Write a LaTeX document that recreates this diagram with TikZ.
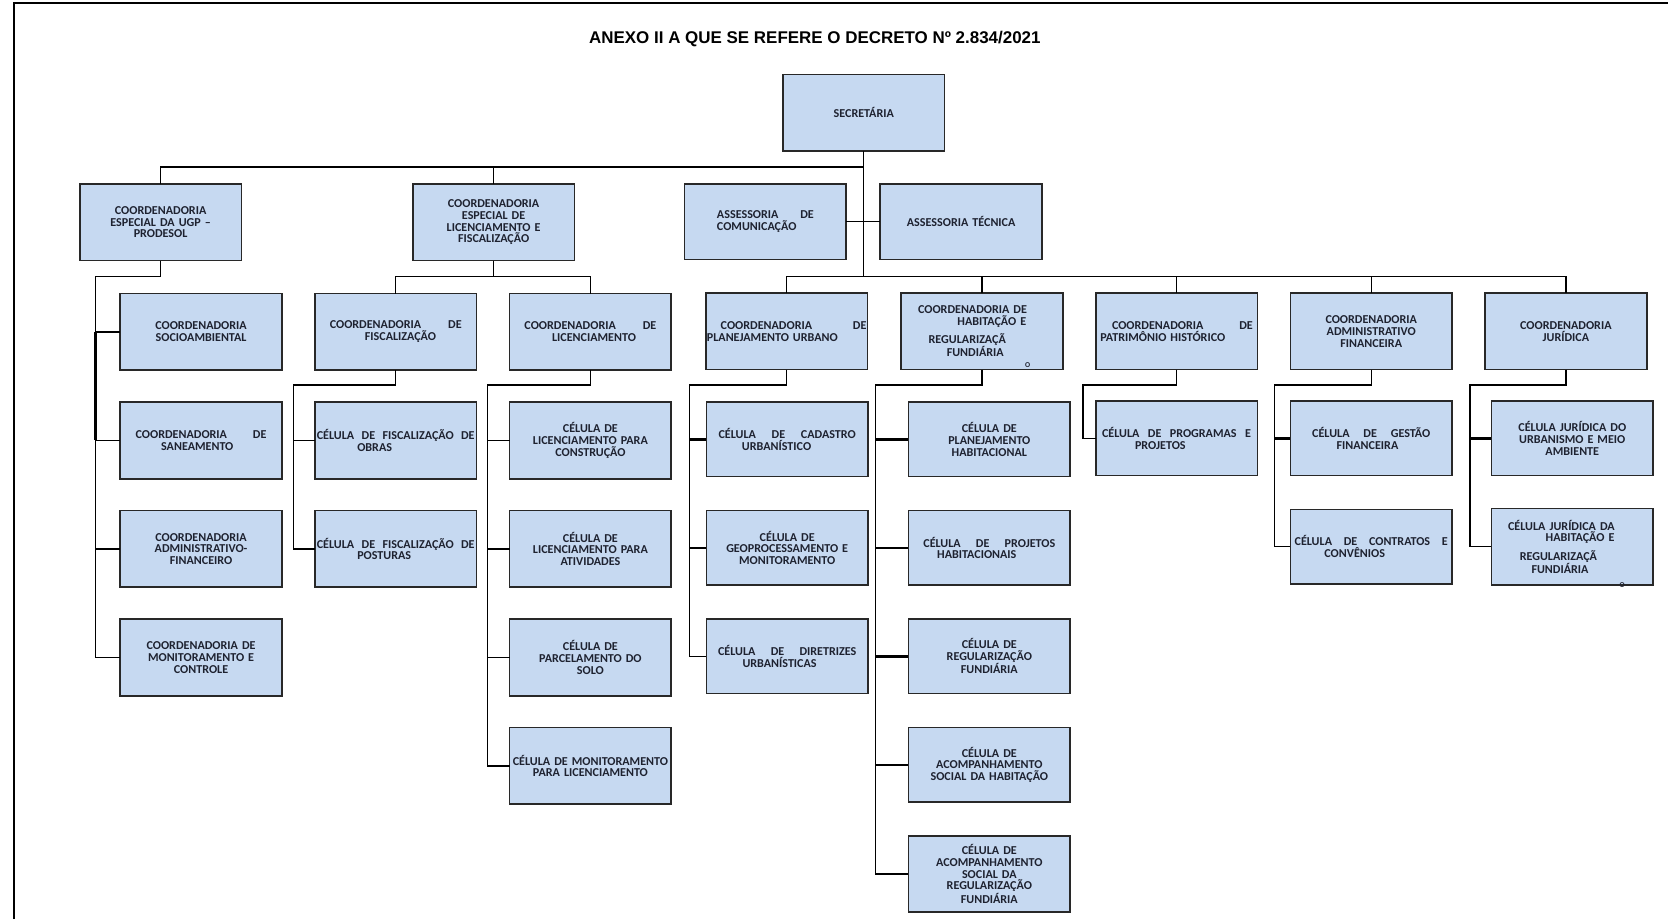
\documentclass[tikz,border=0pt]{standalone}
\usepackage{fontspec}
\setmainfont{Carlito}
\newfontfamily\titlefont{Liberation Sans}
\usetikzlibrary{positioning}
\definecolor{orgfill}{RGB}{198,217,241}
\definecolor{orgline}{RGB}{40,40,40}
\definecolor{orgtext}{RGB}{30,34,48}
\tikzset{orgbox/.style={draw=orgline, line width=1.3pt, fill=orgfill, minimum width=4.56cm, minimum height=2.16cm, inner xsep=0.5pt, inner ysep=0pt, outer sep=0pt, text width=4.2cm, align=center, text=orgtext, font=\bfseries\fontsize{9.7}{9.4}\selectfont}}
\tikzset{orgjust/.style={orgbox, align=left, text width=#1}}
\tikzset{conn/.style={draw=black, line width=1.1pt}}
\tikzset{connb/.style={draw=black, line width=2.4pt}}
\tikzset{stray/.style={text=orgtext, font=\bfseries\fontsize{6}{6}\selectfont, inner sep=0pt}}
\begin{document}
\begin{tikzpicture}[x=0.03cm, y=-0.03cm]
\useasboundingbox (0,0) rectangle (1568,864);
\draw[line width=2pt] (13,864) -- (13,3) -- (1568,3);
\node[font=\titlefont\bfseries\fontsize{13.6}{14}\selectfont] (title) at (766,37) {ANEXO II A QUE SE REFERE O DECRETO Nº 2.834/2021};

% top
\node[orgbox] (sec) at (812,106) {SECRETÁRIA};
\node[orgbox] (ugp) at (151,209) {COORDENADORIA\\ESPECIAL DA UGP –\\PRODESOL};
\node[orgbox] (clf) at (464,209) {COORDENADORIA\\ESPECIAL DE\\LICENCIAMENTO E\\FISCALIZAÇÃO};
\node[orgjust=2.73cm, minimum height=2.13cm] (acom) at (719.5,208.5) {ASSESSORIA\hfill DE\\COMUNICAÇÃO};
\node[orgbox, minimum height=2.13cm] (atec) at (903.5,208.5) {ASSESSORIA TÉCNICA};

\node[orgjust=4.5cm] (cpu) at (739.5,311.5) {\hspace*{0.39cm}COORDENADORIA\hfill DE\\PLANEJAMENTO URBANO};
\node[orgjust=3.6cm] (chab) at (923,311.5) {COORDENADORIA DE\\\makebox[3.05cm][r]{HABITAÇÃO E}\\[4pt]\hspace*{0.3cm}REGULARIZAÇÃ\\\hspace*{0.81cm}FUNDIÁRIA};
\node[stray] (chabo) at (966,343) {O};
\node[orgjust=4.3cm] (cpat) at (1106,311.5) {\hspace*{0.33cm}COORDENADORIA\hfill DE\\PATRIMÔNIO HISTÓRICO};
\node[orgbox] (cadm) at (1289,311.5) {COORDENADORIA\\ADMINISTRATIVO\\FINANCEIRA};
\node[orgbox] (cjur) at (1472,311.5) {COORDENADORIA\\JURÍDICA};

% UGP
\node[orgbox] (socio) at (189,312) {COORDENADORIA\\SOCIOAMBIENTAL};
\node[orgjust=3.69cm, below=0.9cm of socio] (sanea) {COORDENADORIA\hfill DE\\\hspace*{0.72cm}SANEAMENTO};
\node[orgbox, below=0.9cm of sanea] (admfin) {COORDENADORIA\\ADMINISTRATIVO-\\FINANCEIRO};
\node[orgbox, below=0.9cm of admfin] (monit) {COORDENADORIA DE\\MONITORAMENTO E\\CONTROLE};

% licenciamento e fiscalizacao
\node[orgjust=3.72cm] (cfis) at (372,312) {COORDENADORIA\hfill DE\\\hspace*{0.99cm}FISCALIZAÇÃO};
\node[orgjust=3.72cm] (clic) at (555,312) {COORDENADORIA\hfill DE\\\hspace*{0.78cm}LICENCIAMENTO};
\node[orgjust=4.45cm] (obras) at (372,414) {CÉLULA\hfill DE\hfill FISCALIZAÇÃO\hfill DE\\\hspace*{1.14cm}OBRAS};
\node[orgjust=4.45cm, below=0.9cm of obras] (post) {CÉLULA\hfill DE\hfill FISCALIZAÇÃO\hfill DE\\\hspace*{1.14cm}POSTURAS};
\node[orgbox] (constr) at (555,414) {CÉLULA DE\\LICENCIAMENTO PARA\\CONSTRUÇÃO};
\node[orgbox, below=0.9cm of constr] (ativ) {CÉLULA DE\\LICENCIAMENTO PARA\\ATIVIDADES};
\node[orgbox, below=0.9cm of ativ] (parc) {CÉLULA DE\\PARCELAMENTO DO\\SOLO};
\node[orgbox, text width=4.4cm, below=0.9cm of parc] (monlic) {CÉLULA DE MONITORAMENTO\\PARA LICENCIAMENTO};

% planejamento urbano
\node[orgjust=3.87cm, minimum height=2.1cm] (cad) at (740,413) {CÉLULA\hfill DE\hfill CADASTRO\\\hspace*{0.66cm}URBANÍSTICO};
\node[orgbox, minimum height=2.1cm, below=0.96cm of cad] (geo) {CÉLULA DE\\GEOPROCESSAMENTO E\\MONITORAMENTO};
\node[orgjust=3.9cm, minimum height=2.1cm, below=0.96cm of geo] (dir) {CÉLULA\hfill DE\hfill DIRETRIZES\\\hspace*{0.69cm}URBANÍSTICAS};

% habitacao
\node[orgbox, minimum height=2.1cm] (planhab) at (930,413) {CÉLULA DE\\PLANEJAMENTO\\HABITACIONAL};
\node[orgjust=3.72cm, minimum height=2.1cm, below=0.96cm of planhab] (projhab) {CÉLULA\hfill DE\hfill PROJETOS\\\hspace*{0.39cm}HABITACIONAIS};
\node[orgbox, minimum height=2.1cm, below=0.96cm of projhab] (regf) {CÉLULA DE\\REGULARIZAÇÃO\\FUNDIÁRIA};
\node[orgbox, minimum height=2.1cm, below=0.96cm of regf] (acsh) {CÉLULA DE\\ACOMPANHAMENTO\\SOCIAL DA HABITAÇÃO};
\node[orgbox, minimum height=2.13cm, below=0.96cm of acsh] (acsr) {CÉLULA DE\\ACOMPANHAMENTO\\SOCIAL DA\\REGULARIZAÇÃO\\FUNDIÁRIA};

% patrimonio, adm, juridica
\node[orgjust=4.2cm, minimum height=2.1cm] (prog) at (1106,412) {CÉLULA\hfill DE\hfill PROGRAMAS\hfill E\\\hspace*{0.93cm}PROJETOS};
\node[orgjust=3.33cm, minimum height=2.1cm] (gest) at (1289,412) {CÉLULA\hfill DE\hfill GESTÃO\\\hspace*{0.69cm}FINANCEIRA};
\node[orgjust=4.32cm, minimum height=2.1cm, below=0.96cm of gest] (contr) {CÉLULA\hfill DE\hfill CONTRATOS\hfill E\\\hspace*{0.84cm}CONVÊNIOS};
\node[orgbox, minimum height=2.1cm] (jurb) at (1478,412) {CÉLULA JURÍDICA DO\\URBANISMO E MEIO\\AMBIENTE};
\node[orgjust=3.62cm, minimum height=2.16cm, below=0.93cm of jurb] (jhab) {CÉLULA JURÍDICA DA\\\makebox[3.0cm][r]{HABITAÇÃO E}\\[4pt]\hspace*{0.33cm}REGULARIZAÇÃ\\\hspace*{0.66cm}FUNDIÁRIA};
\node[stray] (jhabo) at (1525,550) {O};

% connectors
\coordinate (bus1) at (812,157);
\coordinate (bus2) at (812,260);
\draw[conn] (ugp.north) |- (bus1) -- (sec.south);
\draw[conn] (clf.north) -- (clf.north |- bus1);
\draw[conn] (bus1) -- (bus2);
\draw[conn] (acom.east) -- (atec.west);
\draw[conn] (cpu.north) |- (bus2) -| (cjur.north);
\draw[conn] (chab.north) -- (chab.north |- bus2);
\draw[conn] (cpat.north) -- (cpat.north |- bus2);
\draw[conn] (cadm.north) -- (cadm.north |- bus2);

\coordinate (ugpj) at (90,260);
\draw[conn] (ugp.south) |- (ugpj) |- (monit.west);
\draw[conn] (ugpj) |- (socio.west);
\draw[conn] (ugpj) |- (sanea.west);
\draw[conn] (ugpj) |- (admfin.west);
\draw[connb] (ugpj |- socio.west) -- (ugpj |- sanea.west);

\coordinate (clfj) at (464,260);
\draw[conn] (clf.south) -- (clfj);
\draw[conn] (cfis.north) |- (clfj) -| (clic.north);

\coordinate (fisj) at (276,362);
\draw[conn] (cfis.south) |- (fisj) |- (post.west);
\draw[conn] (fisj) |- (obras.west);

\coordinate (licj) at (458,362);
\draw[conn] (clic.south) |- (licj) |- (monlic.west);
\draw[conn] (licj) |- (constr.west);
\draw[conn] (licj) |- (ativ.west);
\draw[conn] (licj) |- (parc.west);

\coordinate (puj) at (648,362);
\draw[conn] (cpu.south) |- (puj) |- (dir.west);
\draw[conn] (puj) |- (geo.west);
\draw[connb] (puj |- cad.west) -- (cad.west);

\coordinate (habj) at (823,362);
\draw[conn] (chab.south) |- (habj) |- (acsr.west);
\draw[conn] (habj) |- (projhab.west);
\draw[conn] (habj) |- (acsh.west);
\draw[connb] (habj |- planhab.west) -- (planhab.west);
\draw[connb] (habj |- regf.west) -- (regf.west);

\coordinate (patj) at (1018,362);
\draw[conn] (cpat.south) |- (patj) |- (prog.west);

\coordinate (admj) at (1198,362);
\draw[conn] (cadm.south) |- (admj) |- (contr.west);
\draw[connb] (admj |- gest.west) -- (gest.west);

\coordinate (jurj) at (1382,362);
\draw[conn] (cjur.south) |- (jurj) |- (jhab.west);
\draw[connb] (jurj |- jurb.west) -- (jurb.west);
\end{tikzpicture}
\end{document}
